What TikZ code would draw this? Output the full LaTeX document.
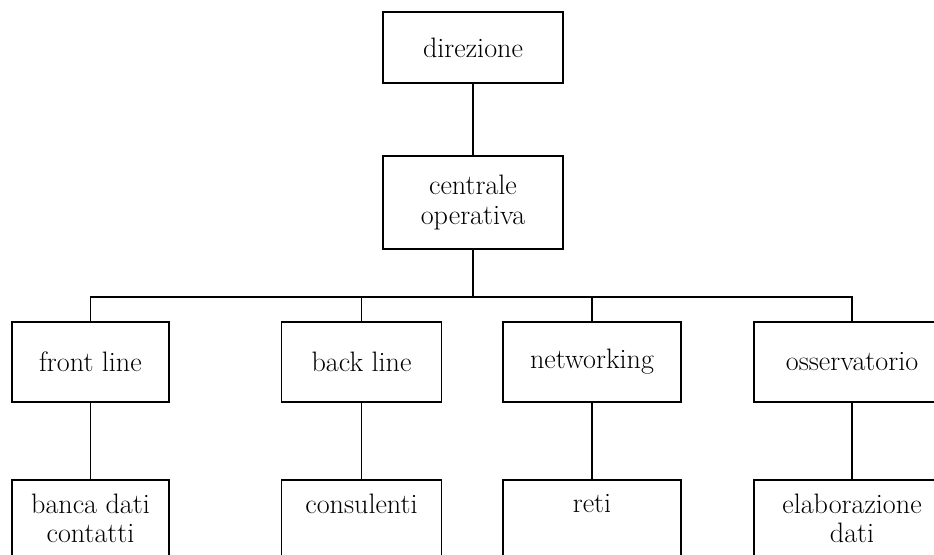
\documentclass[tikz,border=0pt]{standalone}
\usepackage{amsmath}
\usepackage{tikz}

\tikzset{
	unit/.style={draw, line width=0.9pt, align=center, inner sep=2pt,
		font=\fontsize{16}{17}\selectfont},
	link/.style={line width=0.9pt},
}

\begin{document}
\begin{tikzpicture}
			\useasboundingbox (0,0) rectangle (18.68,11.08);
			%%%%%%%%%%%%%%%%%%%%%%%%%%%%%%%%
			\node[unit, minimum width=3.6cm, minimum height=1.42cm] (dir) at (9.46,10.13){direzione};
			\node[unit, minimum width=3.6cm, minimum height=1.86cm] (cen) at (9.46,7.03){centrale\\operativa};
			\coordinate (bar) at (0,5.14);
			%%%%%%%%%%%%%%%%%%%%%%%%%%%%%%%%
			\node[unit, minimum width=3.14cm, minimum height=1.6cm] (front) at (1.81,3.84){front line};
			\node[unit, minimum width=3.2cm, minimum height=1.6cm] (back) at (7.23,3.84){back line};
			\node[unit, minimum width=3.56cm, minimum height=1.6cm] (net) at (11.84,3.84){networking};
			\node[unit, minimum width=3.92cm, minimum height=1.6cm] (oss) at (17.04,3.84){osservatorio};
			%%%%%%%%%%%%%%%%%%%%%%%%%%%%%%%%
			\node[unit, minimum width=3.14cm, minimum height=1.54cm, anchor=north] (banca) at (1.81,1.5){banca dati\\contatti};
			\node[unit, minimum width=3.2cm, minimum height=1.54cm, anchor=north] (cons) at (7.23,1.5){consulenti\\\phantom{x}};
			\node[unit, minimum width=3.56cm, minimum height=1.54cm, anchor=north] (reti) at (11.84,1.5){reti\\\phantom{x}};
			\node[unit, minimum width=3.92cm, minimum height=1.54cm, anchor=north] (elab) at (17.04,1.5){elaborazione\\dati};
			%%%%%%%%%%%%%%%%%%%%%%%%%%%%%%%%
			\draw[link] (dir)--(cen);
			\draw[link] (cen.south)--(cen.south |- bar);
			\draw[link] (front.north)--(front.north |- bar)-|(oss.north);
			\draw[link] (back.north)--(back.north |- bar);
			\draw[link] (net.north)--(net.north |- bar);
			%%%%%%%%%%%%%%%%%%%%%%%%%%%%%%%%
			\draw[link] (front)--(banca);
			\draw[link] (back)--(cons);
			\draw[link] (net)--(reti);
			\draw[link] (oss)--(elab);
		\end{tikzpicture}
\end{document}
